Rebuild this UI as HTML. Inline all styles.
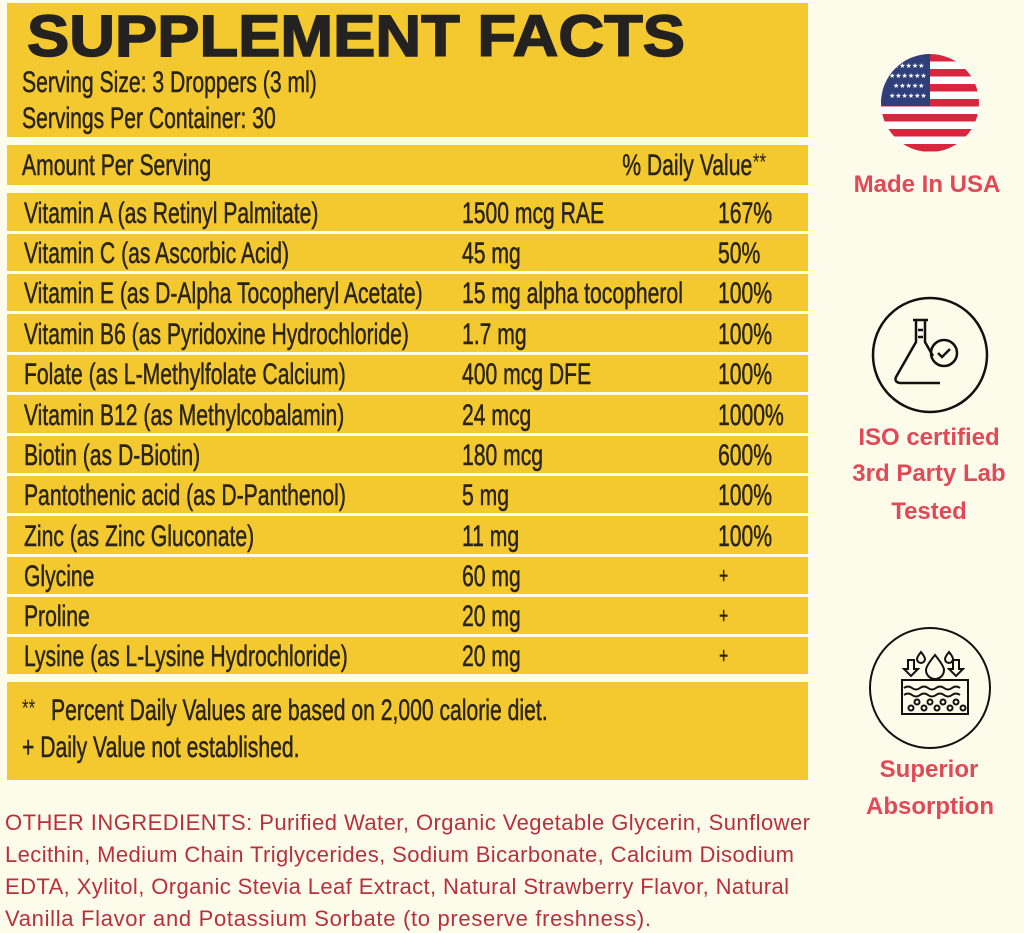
<!DOCTYPE html>
<html><head><meta charset="utf-8"><style>
html,body{margin:0;padding:0;background:#fdfbe9;}
svg{display:block}
</style></head><body>
<svg width="1024" height="933" viewBox="0 0 1024 933" xmlns="http://www.w3.org/2000/svg">
<rect width="1024" height="933" fill="#fdfbe9"/>
<g fill="#f3c92f">
<rect x="7" y="3" width="801" height="134"/>
<rect x="7" y="145" width="801" height="40"/>
<rect x="7" y="193" width="801" height="38"/>
<rect x="7" y="234" width="801" height="37"/>
<rect x="7" y="274" width="801" height="37"/>
<rect x="7" y="314" width="801" height="38"/>
<rect x="7" y="355" width="801" height="37"/>
<rect x="7" y="395" width="801" height="38"/>
<rect x="7" y="436" width="801" height="37"/>
<rect x="7" y="476" width="801" height="37"/>
<rect x="7" y="516" width="801" height="38"/>
<rect x="7" y="557" width="801" height="37"/>
<rect x="7" y="597" width="801" height="37"/>
<rect x="7" y="637" width="801" height="37"/>
<rect x="7" y="682" width="801" height="98"/>
</g>
<text x="27" y="56" font-family="Liberation Sans, sans-serif" font-weight="bold" font-size="58" fill="#242220" stroke="#242220" stroke-width="1.5" textLength="658" lengthAdjust="spacingAndGlyphs">SUPPLEMENT FACTS</text>
<g transform="scale(0.705,1)" font-family="'Liberation Sans',sans-serif" font-size="30" fill="#2a2417" stroke="#2a2417" stroke-width="0.5">
<text x="31.2" y="92">Serving Size: 3 Droppers (3 ml)</text>
<text x="31.2" y="128">Servings Per Container: 30</text>
<text x="31.2" y="175">Amount Per Serving</text>
<text x="1067" y="175" text-anchor="end">% Daily Value</text>
<text x="1068" y="170" font-size="24" stroke-width="0">**</text>

<text x="34" y="223">Vitamin A (as Retinyl Palmitate)</text>
<text x="655.3" y="223">1500 mcg RAE</text>
<text x="1018.4" y="223">167%</text>

<text x="34" y="263">Vitamin C (as Ascorbic Acid)</text>
<text x="655.3" y="263">45 mg</text>
<text x="1018.4" y="263">50%</text>

<text x="34" y="303">Vitamin E (as D-Alpha Tocopheryl Acetate)</text>
<text x="655.3" y="303">15 mg alpha tocopherol</text>
<text x="1018.4" y="303">100%</text>

<text x="34" y="344">Vitamin B6 (as Pyridoxine Hydrochloride)</text>
<text x="655.3" y="344">1.7 mg</text>
<text x="1018.4" y="344">100%</text>

<text x="34" y="384">Folate (as L-Methylfolate Calcium)</text>
<text x="655.3" y="384">400 mcg DFE</text>
<text x="1018.4" y="384">100%</text>

<text x="34" y="425">Vitamin B12 (as Methylcobalamin)</text>
<text x="655.3" y="425">24 mcg</text>
<text x="1018.4" y="425">1000%</text>

<text x="34" y="465">Biotin (as D-Biotin)</text>
<text x="655.3" y="465">180 mcg</text>
<text x="1018.4" y="465">600%</text>

<text x="34" y="505">Pantothenic acid (as D-Panthenol)</text>
<text x="655.3" y="505">5 mg</text>
<text x="1018.4" y="505">100%</text>

<text x="34" y="546">Zinc (as Zinc Gluconate)</text>
<text x="655.3" y="546">11 mg</text>
<text x="1018.4" y="546">100%</text>

<text x="34" y="586">Glycine</text>
<text x="655.3" y="586">60 mg</text>
<text x="1020" y="583" font-size="22">+</text>

<text x="34" y="626">Proline</text>
<text x="655.3" y="626">20 mg</text>
<text x="1020" y="623" font-size="22">+</text>

<text x="34" y="666">Lysine (as L-Lysine Hydrochloride)</text>
<text x="655.3" y="666">20 mg</text>
<text x="1020" y="663" font-size="22">+</text>

<text x="31.2" y="716" font-size="24" stroke-width="0">**</text>
<text x="72.3" y="720">Percent Daily Values are based on 2,000 calorie diet.</text>
<text x="31.2" y="757">+ Daily Value not established.</text>
</g>

<g font-family="Liberation Sans, sans-serif" font-size="22" fill="#b8303e" lengthAdjust="spacingAndGlyphs">
<text x="5" y="830" textLength="805">OTHER INGREDIENTS: Purified Water, Organic Vegetable Glycerin, Sunflower</text>
<text x="5" y="862" textLength="789">Lecithin, Medium Chain Triglycerides, Sodium Bicarbonate, Calcium Disodium</text>
<text x="5" y="894" textLength="784">EDTA, Xylitol, Organic Stevia Leaf Extract, Natural Strawberry Flavor, Natural</text>
<text x="5" y="926" textLength="646">Vanilla Flavor and Potassium Sorbate (to preserve freshness).</text>
</g>

<defs><clipPath id="fc"><circle cx="930" cy="103" r="49"/></clipPath></defs>
<g clip-path="url(#fc)">
<rect x="880" y="54" width="100" height="100" fill="#fff"/>
<g fill="#d7263d">
<rect x="880" y="54" width="100" height="7.5"/>
<rect x="880" y="69" width="100" height="7.5"/>
<rect x="880" y="84" width="100" height="7.5"/>
<rect x="880" y="99" width="100" height="7.5"/>
<rect x="880" y="114" width="100" height="7.5"/>
<rect x="880" y="129" width="100" height="7.5"/>
<rect x="880" y="144" width="100" height="7.5"/>
</g>
<rect x="880" y="54" width="50" height="52" fill="#2e3f7c"/>
<g fill="#fff" font-size="7" font-family="DejaVu Sans">
<text x="893" y="68">★★★★★</text><text x="889" y="78">★★★★★★</text><text x="893" y="88">★★★★★</text><text x="889" y="98">★★★★★★</text>
</g>
</g>
<g font-family="Liberation Sans, sans-serif" font-weight="bold" font-size="24" fill="#e04a58" text-anchor="middle">
<text x="927" y="192">Made In USA</text>
<text x="929" y="445">ISO certified</text>
<text x="929" y="481">3rd Party Lab</text>
<text x="929" y="519">Tested</text>
<text x="929" y="777">Superior</text>
<text x="930" y="814">Absorption</text>
</g>
<g fill="none" stroke="#111" stroke-width="2.5">
<circle cx="930" cy="355" r="57"/>
<path d="M913 320 h15 M916 320 v22 l-20 35 q-2 5 4 6 h40 M925 320 v22 l8 14"/>
<path d="M918 330 h5 M918 337 h5"/>
<circle cx="944" cy="353" r="13"/>
<path d="M938 353 l4 4 l8 -8"/>
</g>
<g fill="none" stroke="#111" stroke-width="2">
<circle cx="930" cy="688" r="60"/>
<rect x="902" y="680" width="66" height="34"/>
<path d="M904 688 q4 -3 8 0 t8 0 t8 0 t8 0 t8 0 t8 0 t8 0 M904 695 q4 -3 8 0 t8 0 t8 0 t8 0 t8 0 t8 0 t8 0"/>
<circle cx="917" cy="702" r="2.5"/><circle cx="930" cy="702" r="2.5"/><circle cx="943" cy="702" r="2.5"/><circle cx="956" cy="702" r="2.5"/>
<circle cx="911" cy="708" r="2.5"/><circle cx="924" cy="708" r="2.5"/><circle cx="937" cy="708" r="2.5"/><circle cx="950" cy="708" r="2.5"/><circle cx="963" cy="708" r="2.5"/>
<path d="M935 655 q-9 11 -9 15 a9 9 0 0 0 18 0 q0 -4 -9 -15z"/>
<path d="M921 652 q-4 5 -4 7 a4 4 0 0 0 8 0 q0 -2 -4 -7z M949 652 q-4 5 -4 7 a4 4 0 0 0 8 0 q0 -2 -4 -7z"/>
<path d="M908 660 v9 h-4 l7 7 l7 -7 h-4 v-9z M953 660 v9 h-4 l7 7 l7 -7 h-4 v-9z"/>
</g>
</svg>
</body></html>
